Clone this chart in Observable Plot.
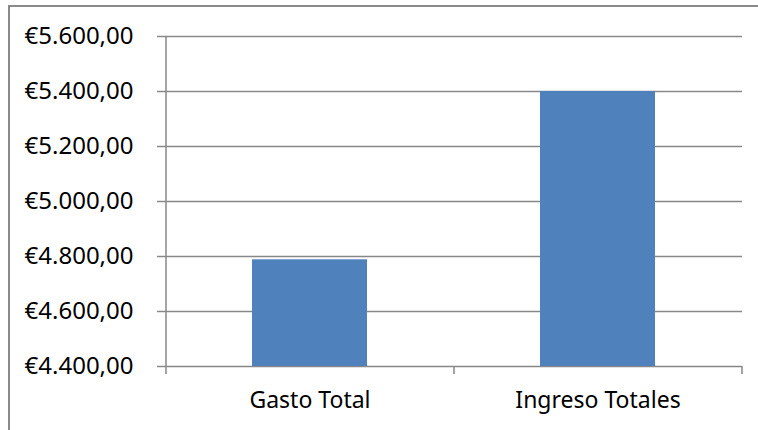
<!DOCTYPE html>
<html><head><meta charset="utf-8">
<script src="https://cdn.jsdelivr.net/npm/d3@7"></script>
<script src="https://cdn.jsdelivr.net/npm/@observablehq/plot@0.6"></script>
<style>
body{margin:0;background:#fff}
#wrap{position:relative;width:758px;height:430px;overflow:hidden;background:#fff}
#border{position:absolute;left:8px;top:5px;width:800px;height:500px;border-left:2px solid #8a8a8a;border-top:2px solid #8a8a8a;pointer-events:none}
#wrap svg{position:absolute;left:0;top:0}
</style>
</head><body><div id="wrap"><div id="border"></div></div>
<script>
const categories = ["Gasto Total", "Ingreso Totales"];
const values = [4788, 5400];
const yTicks = [4400, 4600, 4800, 5000, 5200, 5400, 5600];
const yDomain = [4400, 5600];

const data = categories.map((c, i) => ({cat: c, value: values[i]}));
const locale = d3.formatLocale({decimal: ",", thousands: ".", grouping: [3], currency: ["€", ""]});
const fmt = locale.format("$,.2f");
const gray = "#888888";

function frameLines(index, scales, vals, dims) {
  const g = d3.create("svg:g").attr("stroke", gray).attr("stroke-width", 1.5).attr("fill", "none");
  const left = dims.marginLeft, right = dims.width - dims.marginRight;
  const top = dims.marginTop, bottom = dims.height - dims.marginBottom;
  const step = scales.x(categories[1]) - scales.x(categories[0]);
  g.append("line").attr("x1", left).attr("x2", left).attr("y1", top).attr("y2", bottom + 8);
  for (let k = 1; k <= categories.length; k++) {
    const bx = Math.min(left + k * step, right);
    g.append("line").attr("x1", bx).attr("x2", bx).attr("y1", bottom).attr("y2", bottom + 8);
  }
  return g.node();
}

const chart = Plot.plot({
  width: 758, height: 430,
  marginLeft: 166, marginRight: 16, marginTop: 36, marginBottom: 64,
  style: {fontFamily: "'Noto Sans', sans-serif", fontSize: "23px", color: "#000", background: "transparent"},
  x: {domain: categories, paddingInner: 0.6, paddingOuter: 0.3, label: null},
  y: {domain: yDomain, ticks: yTicks, label: null},
  marks: [
    Plot.gridY(yTicks, {stroke: gray, strokeOpacity: 1, strokeWidth: 1.5}),
    Plot.barY(data, {x: "cat", y1: yDomain[0], y2: "value", fill: "#4F81BD"}),
    Plot.axisY(yTicks, {tickSize: 9, tickPadding: 24, tickFormat: fmt, stroke: gray, strokeWidth: 1.5, fill: "#000", fontSize: 24, label: null}),
    Plot.axisX({tickSize: 0, tickPadding: 25, fill: "#000", fontSize: 23, label: null}),
    frameLines
  ]
});
document.getElementById("wrap").appendChild(chart);
</script>
</body></html>
